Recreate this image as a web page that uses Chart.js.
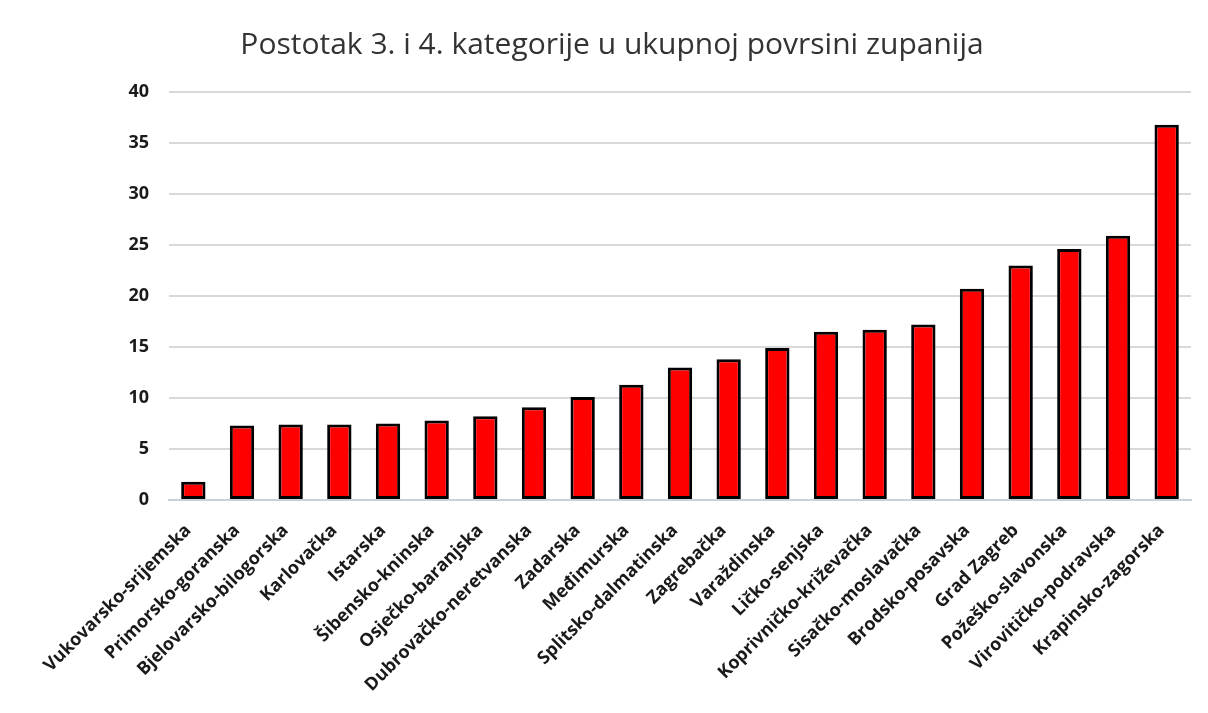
<!DOCTYPE html>
<html>
<head>
<meta charset="utf-8">
<script src="https://cdn.jsdelivr.net/npm/chart.js@4.4.1/dist/chart.umd.min.js"></script>
<style>
  html, body { margin: 0; padding: 0; background: #ffffff; }
  #wrap { width: 1208px; height: 713px; position: relative; }
</style>
</head>
<body>
<div id="wrap"><canvas id="c" width="1208" height="713"></canvas></div>
<script>
const chartTitle = "Postotak 3. i 4. kategorije u ukupnoj povrsini zupanija";
const categories = [
  "Vukovarsko-srijemska", "Primorsko-goranska", "Bjelovarsko-bilogorska", "Karlovačka",
  "Istarska", "Šibensko-kninska", "Osječko-baranjska", "Dubrovačko-neretvanska",
  "Zadarska", "Međimurska", "Splitsko-dalmatinska", "Zagrebačka", "Varaždinska",
  "Ličko-senjska", "Koprivničko-križevačka", "Sisačko-moslavačka", "Brodsko-posavska",
  "Grad Zagreb", "Požeško-slavonska", "Virovitičko-podravska", "Krapinsko-zagorska"
];
const values = [1.8, 7.3, 7.4, 7.4, 7.5, 7.8, 8.2, 9.1, 10.1, 11.3, 13.0, 13.8, 14.9, 16.5, 16.7, 17.2, 20.7, 23.0, 24.6, 25.9, 36.8];
const yTicks = [0, 5, 10, 15, 20, 25, 30, 35, 40];

const FONT = "'Open Sans', 'DejaVu Sans', sans-serif";

new Chart(document.getElementById('c'), {
  type: 'bar',
  data: {
    labels: categories,
    datasets: [{
      data: values,
      backgroundColor: '#ff0000',
      borderColor: '#000000',
      borderWidth: 3,
      borderSkipped: false,
      categoryPercentage: 1.0,
      barPercentage: 0.5
    }]
  },
  options: {
    responsive: false,
    animation: false,
    devicePixelRatio: 1,
    layout: { padding: { left: 33, right: 17, top: 0, bottom: 0 } },
    plugins: {
      legend: { display: false },
      tooltip: { enabled: false },
      title: {
        display: true,
        text: chartTitle,
        color: '#333333',
        font: { family: FONT, size: 30, weight: 'normal' },
        padding: { top: 27, bottom: 29 }
      }
    },
    scales: {
      x: {
        grid: { display: false },
        border: { display: true, color: '#c9d3d6', width: 2 },
        ticks: {
          color: '#1a1a1a',
          font: { family: FONT, size: 18, weight: 'bold' },
          maxRotation: 45,
          minRotation: 45,
          autoSkip: false,
          labelOffset: -5,
          padding: 12
        },
        afterFit: (s) => { s.height = 213; }
      },
      y: {
        min: 0,
        max: 40,
        afterBuildTicks: (s) => { s.ticks = yTicks.map(v => ({ value: v })); },
        grid: { color: '#d9d9d9', lineWidth: 2, drawTicks: false },
        border: { display: false },
        ticks: {
          color: '#1a1a1a',
          font: { family: FONT, size: 18, weight: 'bold' },
          padding: 20
        },
        afterFit: (s) => { s.width = 136; }
      }
    }
  }
});
</script>
</body>
</html>
